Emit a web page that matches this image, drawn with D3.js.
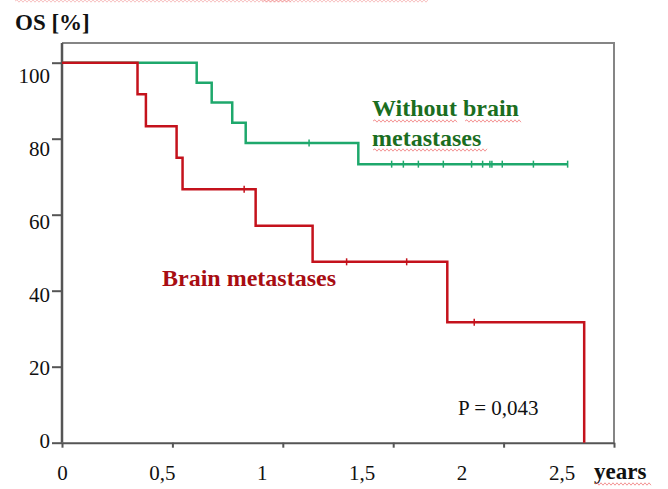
<!DOCTYPE html>
<html>
<head>
<meta charset="utf-8">
<script src="https://cdn.jsdelivr.net/npm/d3@7"></script>
<style>
  body { margin: 0; background: #fff; }
  svg text { font-family: "Liberation Serif", "Times New Roman", serif; }
</style>
</head>
<body>
<svg id="chart" width="668" height="489"></svg>
<script>
// Kaplan-Meier values (time in years, survival in %)
var redTimes = [0, 0.342, 0.380, 0.519, 0.546, 0.877, 1.135, 1.745, 2.365];
var redSurv = [100, 91.7, 83.3, 75.0, 66.7, 57.1, 47.6, 31.7, 0];
var redCensor = [0.825, 1.289, 1.561, 1.867];

var greenTimes = [0, 0.610, 0.678, 0.771, 0.832, 1.342, 2.290];
var greenSurv = [100, 94.7, 89.5, 84.2, 78.9, 73.3, 73.3];
var greenCensor = [1.119, 1.493, 1.546, 1.614, 1.727, 1.855, 1.905, 1.938, 1.947, 1.994, 2.135, 2.290];

var xTicks = [0, 0.5, 1, 1.5, 2, 2.5];
var xTickLabels = ["0", "0,5", "1", "1,5", "2", "2,5"];
var yTicks = [0, 20, 40, 60, 80, 100];

var svg = d3.select("#chart");

// set the ranges
var x = d3.scaleLinear().domain([0, 2.5]).range([62, 614]);
var y = d3.scaleLinear().domain([0, 100]).range([442.7, 62.7]);
// tick labels in the source sit a bit off the ticks
var xLab = d3.scaleLinear().domain([0, 2.5]).range([62.5, 562]);
var yLab = d3.scaleLinear().domain([0, 100]).range([448, 83]);

// frame (top + right)
svg.append("path")
    .attr("d", "M" + x(0) + "," + 43 + "H" + x(2.5) + "V" + y(0))
    .attr("fill", "none")
    .attr("stroke", "#858585")
    .attr("stroke-width", 2);

// x axis
var gx = svg.append("g")
    .attr("transform", "translate(0," + y(0) + ")")
    .call(d3.axisBottom(x).tickValues(xTicks).tickSize(5).tickFormat("").tickSizeOuter(0));
gx.select(".domain").attr("stroke", "#555").attr("stroke-width", 2);
gx.selectAll(".tick line").attr("stroke", "#555").attr("stroke-width", 2);

// y axis
var gy = svg.append("g")
    .attr("transform", "translate(" + x(0) + ",0)")
    .call(d3.axisLeft(y).tickValues(yTicks).tickSize(10).tickFormat("").tickSizeOuter(0));
gy.select(".domain").attr("stroke", "#555").attr("stroke-width", 2.5)
    .attr("d", "M0,43V" + y(0));
gy.selectAll(".tick line").attr("stroke", "#555").attr("stroke-width", 2);

// tick labels
svg.append("g").selectAll("text")
    .data(xTicks)
    .enter().append("text")
    .attr("x", function(d) { return xLab(d); })
    .attr("y", 480)
    .attr("text-anchor", "middle")
    .attr("font-size", 21)
    .attr("fill", "#111")
    .text(function(d, i) { return xTickLabels[i]; });

svg.append("g").selectAll("text")
    .data(yTicks)
    .enter().append("text")
    .attr("x", 50)
    .attr("y", function(d) { return yLab(d); })
    .attr("text-anchor", "end")
    .attr("font-size", 21)
    .attr("fill", "#111")
    .text(function(d) { return d; });

svg.append("text")
    .attr("x", 15).attr("y", 30)
    .attr("font-size", 23).attr("font-weight", "bold").attr("fill", "#111")
    .text("OS [%]");

svg.append("text")
    .attr("x", 594).attr("y", 479)
    .attr("font-size", 23).attr("font-weight", "bold").attr("fill", "#111")
    .text("years");

// survival curves
var line = d3.line()
    .x(function(d) { return x(d[0]); })
    .y(function(d) { return y(d[1]); })
    .curve(d3.curveStepAfter);

function survAt(times, surv, t) {
    var s = surv[0];
    for (var i = 0; i < times.length; i++) {
        if (times[i] <= t) s = surv[i];
    }
    return s;
}

function drawCurve(times, surv, censor, color) {
    svg.append("path")
        .datum(d3.zip(times, surv))
        .attr("d", line)
        .attr("fill", "none")
        .attr("stroke", color)
        .attr("stroke-width", 2.5);
    svg.append("g").selectAll("line")
        .data(censor)
        .enter().append("line")
        .attr("x1", function(d) { return x(d); })
        .attr("x2", function(d) { return x(d); })
        .attr("y1", function(d) { return y(survAt(times, surv, d)) - 3.5; })
        .attr("y2", function(d) { return y(survAt(times, surv, d)) + 3.5; })
        .attr("stroke", color)
        .attr("stroke-width", 1.5);
}

drawCurve(greenTimes, greenSurv, greenCensor, "#1ea86c");
drawCurve(redTimes, redSurv, redCensor, "#c4121c");

// labels
svg.append("text")
    .attr("x", 372).attr("y", 116)
    .attr("font-size", 24).attr("font-weight", "bold").attr("fill", "#1b6e1f")
    .text("Without brain");
svg.append("text")
    .attr("x", 372).attr("y", 146)
    .attr("font-size", 24).attr("font-weight", "bold").attr("fill", "#1b6e1f")
    .text("metastases");
svg.append("text")
    .attr("x", 162).attr("y", 286)
    .attr("font-size", 24).attr("font-weight", "bold").attr("fill", "#a80d12")
    .text("Brain metastases");
svg.append("text")
    .attr("x", 458).attr("y", 415)
    .attr("font-size", 21).attr("fill", "#111")
    .text("P = 0,043");

// spell-check squiggles seen in the screenshot
function wavy(x1, x2, yy) {
    var p = "M" + x1 + "," + yy;
    var up = true;
    for (var xx = x1 + 2; xx <= x2; xx += 2) {
        p += "L" + xx + "," + (yy + (up ? -1.2 : 1.2));
        up = !up;
    }
    return p;
}
[[373, 458, 121, 0.8], [465, 522, 121, 0.8], [373, 487, 150, 0.8], [595, 652, 484, 0.8], [15, 291, 1, 0.45], [262, 428, 1, 0.45]]
    .forEach(function(s) {
        svg.append("path")
            .attr("d", wavy(s[0], s[1], s[2]))
            .attr("fill", "none")
            .attr("stroke", "#f07a7a")
            .attr("stroke-width", 1)
            .attr("opacity", s[3]);
    });
</script>
</body>
</html>
